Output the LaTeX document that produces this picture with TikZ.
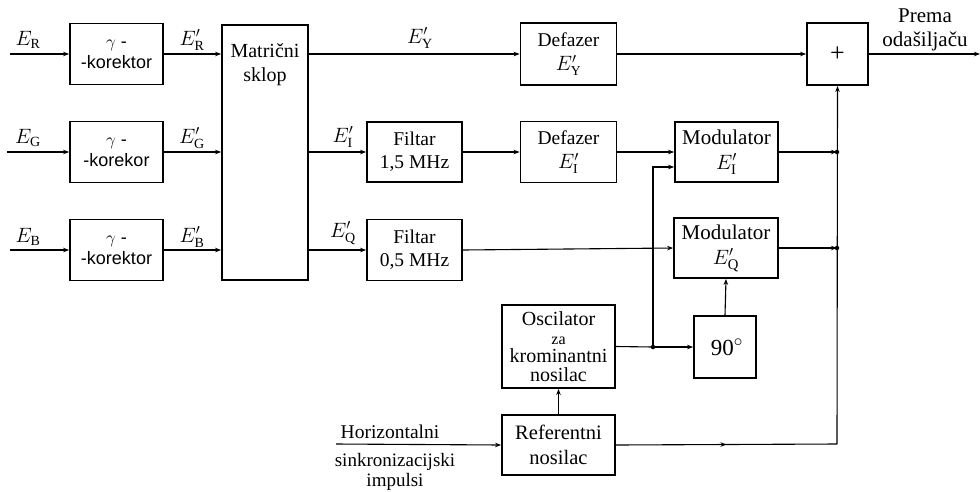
\documentclass[tikz,border=0pt]{standalone}
\usepackage{fontspec}
\setmainfont{Liberation Serif}
\newfontfamily\gsans{Liberation Sans}
\usetikzlibrary{arrows.meta,decorations.markings}
\tikzset{
  blk/.style={draw, line width=1.8pt, inner sep=0pt, align=center, font=\fontsize{19.5}{24.5}\selectfont},
  gbox/.style={blk, minimum width=93pt, minimum height=61pt, font=\gsans\fontsize{18}{21}\selectfont},
  con/.style={line width=1.1pt},
  arr/.style={con, -{Stealth[length=6pt,width=4.5pt]}},
  midarr/.style={con, postaction={decorate}, decoration={markings, mark=at position #1 with {\arrow{Stealth[length=6pt,width=4.5pt]}}}},
  lbl/.style={font=\fontsize{20}{22}\selectfont, inner sep=0pt},
  txt/.style={font=\fontsize{20}{24}\selectfont, inner sep=0pt, align=center},
  jdot/.style={circle, fill, inner sep=0pt, minimum size=4.5pt},
}
\begin{document}
\begin{tikzpicture}[x=1pt,y=-1pt]
\useasboundingbox (0,0) rectangle (980,491);

% gamma correctors
\node[gbox] (g1) at (116.5,54) {$\gamma$ -\\-korektor};
\node[gbox] (g2) at (116.5,152) {$\gamma$ -\\-korekor};
\node[gbox] (g3) at (116.5,250) {$\gamma$ -\\-korektor};

% matrix
\node[blk, minimum width=86pt, minimum height=255pt] (mat) at (265,152.5) {};
\node[txt] (matl) at (265,65) {Matrični\\sklop};

% filters / phase shifters
\node[blk, minimum width=96pt, minimum height=62pt] (dy) at (568.5,54) {Defazer\\$E'_{\mathrm{Y}}$};
\node[blk, minimum width=96pt, minimum height=61pt] (di) at (568.5,152) {Defazer\\$E'_{\mathrm{I}}$};
\node[blk, minimum width=95pt, minimum height=60pt, font=\fontsize{19.5}{23}\selectfont] (f1) at (414.5,152) {Filtar\\1,5 MHz};
\node[blk, minimum width=95pt, minimum height=61pt, font=\fontsize{19.5}{23}\selectfont] (f2) at (414.5,250) {Filtar\\0,5 MHz};

% modulators
\node[blk, minimum width=103pt, minimum height=60pt, font=\fontsize{21}{25}\selectfont] (mi) at (726.5,152) {Modulator\\$E'_{\mathrm{I}}$};
\node[blk, minimum width=104pt, minimum height=60pt, font=\fontsize{21}{25}\selectfont] (mq) at (726,248) {Modulator\\$E'_{\mathrm{Q}}$};

% adder
\node[blk, minimum width=61pt, minimum height=62pt, font=\fontsize{26}{28}\selectfont] (plus) at (837.5,54) {+};

% oscillator, 90, reference
\node[blk, minimum width=113pt, minimum height=83pt, font=\fontsize{20}{18.5}\selectfont] (osc) at (558.5,346.5) {Oscilator\\{\fontsize{16}{18.5}\selectfont za}\\krominantni\\nosilac};
\node[blk, minimum width=62pt, minimum height=62pt, font=\fontsize{23}{25}\selectfont] (ninety) at (725,347) {\,90$^{\circ}$};
\node[blk, minimum width=113pt, minimum height=60pt, font=\fontsize{20.5}{25}\selectfont] (ref) at (558.5,445) {Referentni\\nosilac};

% free ends and junctions
\coordinate (inR) at (10,54);
\coordinate (inG) at (7,152);
\coordinate (inB) at (10,250);
\coordinate (hin) at (336,444);
\coordinate (out) at (980,54);
\coordinate (bus1) at (837,152);
\coordinate (bus2) at (837,248);
\coordinate (busB) at (837,444);
\coordinate (j1) at (653,347);

% inputs
\draw[arr] (inR) -- (g1.west);
\draw[arr] (inG) -- (g2.west);
\draw[arr] (inB) -- (g3.west);

% to matrix
\draw[arr] (g1.east) -- (mat.west |- g1.east);
\draw[arr] (g2.east) -- (mat.west |- g2.east);
\draw[arr] (g3.east) -- (mat.west |- g3.east);

% from matrix
\draw[arr] (mat.east |- dy.west) -- (dy.west);
\draw[arr] (mat.east |- f1.west) -- (f1.west);
\draw[arr] (mat.east |- f2.west) -- (f2.west);

\draw[arr] (f1.east) -- (di.west);
\draw[arr] (f2.east) -- (mq.west);
\draw[arr] (di.east) -- (mi.west);
\draw[arr] (dy.east) -- (plus.west);
\draw[arr] (plus.east) -- (out);

% modulator outputs to bus
\draw[arr] (mi.east) -- (bus1);
\draw[arr] (mq.east) -- (bus2);
\node[jdot] (d1) at (bus1) {};
\node[jdot] (d2) at (bus2) {};

% bus
\draw[midarr=0.5] (ref.east) -- (busB);
\draw[arr] (busB) -- (plus.south);

% oscillator distribution
\draw[con] (osc.east) -- (j1);
\draw[arr] (j1) -- (ninety.west);
\draw[arr] (j1) -- (j1 |- 0,167) -- ([yshift=-15pt]mi.west);
\node[jdot] (d3) at (j1) {};
\draw[arr] (ninety.north) -- (mq.south);
\draw[arr] (ref.north) -- (osc.south);
\draw[arr] (hin) -- (ref.west);

% labels
\node[lbl] (lR) at (28,40) {$E_{\mathrm{R}}$};
\node[lbl] (lG) at (28,138) {$E_{\mathrm{G}}$};
\node[lbl] (lB) at (28,237) {$E_{\mathrm{B}}$};
\node[lbl] (lRp) at (192,40) {$E'_{\mathrm{R}}$};
\node[lbl] (lGp) at (192,138) {$E'_{\mathrm{G}}$};
\node[lbl] (lBp) at (192,237) {$E'_{\mathrm{B}}$};
\node[lbl] (lY) at (420,38) {$E'_{\mathrm{Y}}$};
\node[lbl] (lI) at (343,137) {$E'_{\mathrm{I}}$};
\node[lbl] (lQ) at (343,233) {$E'_{\mathrm{Q}}$};

\node[txt, font=\fontsize{21}{24}\selectfont] (prema) at (925,30) {Prema\\odašiljaču};
\node[txt, font=\fontsize{19.5}{22}\selectfont] (h1) at (390,432) {Horizontalni};
\node[txt, font=\fontsize{19}{22}\selectfont] (h2) at (395,462) {sinkronizacijski};
\node[txt, font=\fontsize{19}{22}\selectfont] (h3) at (395,482) {impulsi};
\end{tikzpicture}
\end{document}
